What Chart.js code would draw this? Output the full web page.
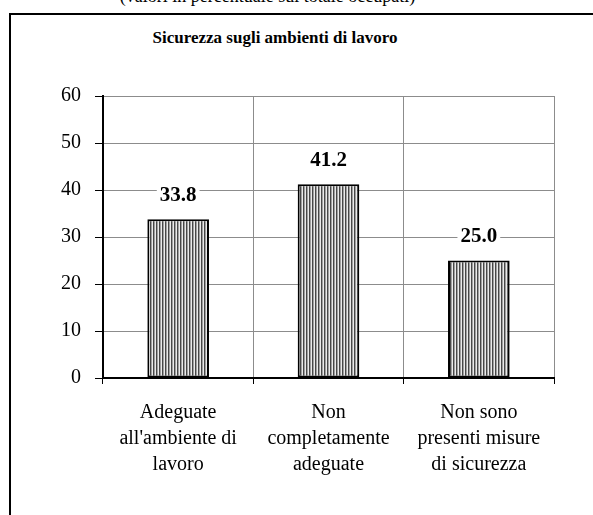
<!DOCTYPE html>
<html>
<head>
<meta charset="utf-8">
<script src="https://cdn.jsdelivr.net/npm/chart.js@4/dist/chart.umd.min.js"></script>
<style>
  html, body { margin: 0; padding: 0; background: #fff; overflow: hidden; }
  #wrap { position: relative; width: 593px; height: 515px; overflow: hidden; }
  #frame { position: absolute; left: 9px; top: 13px; width: 620px; height: 540px; border: 2px solid #000; box-sizing: border-box; }
  #subtitle { position: absolute; left: 0; width: 535px; top: -13px; text-align: center; font: 18px 'Liberation Serif', serif; line-height: 18px; color: #000; white-space: nowrap; }
  #title { position: absolute; left: 0; width: 550px; top: 28px; text-align: center; font: bold 17px 'Liberation Serif', serif; line-height: 20px; color: #000; white-space: nowrap; }
  canvas { position: absolute; left: 0; top: 0; }
</style>
</head>
<body>
<div id="wrap">
  <div id="frame"></div>
  <div id="subtitle">(valori in percentuale sul totale occupati)</div>
  <div id="title">Sicurezza sugli ambienti di lavoro</div>
  <canvas id="c" width="593" height="515"></canvas>
</div>
<script>
const categories = [
  ["Adeguate", "all'ambiente di", "lavoro"],
  ["Non", "completamente", "adeguate"],
  ["Non sono", "presenti misure", "di sicurezza"]
];
const values = [33.8, 41.2, 25.0];
const yTicks = [0, 10, 20, 30, 40, 50, 60];

function hatch() {
  const p = document.createElement('canvas');
  p.width = 3; p.height = 4;
  const g = p.getContext('2d');
  const cols = ['#474747', '#a0a0a0', '#eaeaea'];
  cols.forEach((c, i) => { g.fillStyle = c; g.fillRect(i, 0, 1, 4); });
  return g.createPattern(p, 'repeat');
}

const FONT = "'Liberation Serif', 'Times New Roman', serif";

const valueLabels = {
  id: 'valueLabels',
  afterDatasetsDraw(chart) {
    const ctx = chart.ctx;
    const meta = chart.getDatasetMeta(0);
    ctx.save();
    ctx.font = 'bold 21px ' + FONT;
    ctx.textAlign = 'center';
    ctx.textBaseline = 'middle';
    meta.data.forEach((bar, i) => {
      const txt = values[i].toFixed(1);
      const w = ctx.measureText(txt).width;
      const cy = bar.y - 25;
      ctx.fillStyle = '#fff';
      ctx.fillRect(bar.x - w / 2 - 3, cy - 10, w + 6, 20);
      ctx.fillStyle = '#000';
      ctx.fillText(txt, bar.x, cy + 1);
    });
    ctx.restore();
  }
};

new Chart(document.getElementById('c'), {
  type: 'bar',
  data: {
    labels: categories,
    datasets: [{
      data: values,
      backgroundColor: hatch(),
      borderColor: '#000',
      borderWidth: 2,
      borderSkipped: false,
      categoryPercentage: 1.0,
      barPercentage: 0.41
    }]
  },
  options: {
    responsive: false,
    animation: false,
    events: [],
    layout: { padding: { top: 96, left: 0, right: 39, bottom: 0 } },
    plugins: {
      legend: { display: false },
      title: { display: false },
      tooltip: { enabled: false }
    },
    scales: {
      x: {
        offset: true,
        grid: { offset: true, color: '#8c8c8c', lineWidth: 1, tickColor: '#000', tickLength: 6, drawTicks: true },
        border: { display: true, color: '#000', width: 2 },
        ticks: { color: '#000', font: { family: FONT, size: 20, lineHeight: '26px' }, padding: 16, maxRotation: 0, autoSkip: false },
        afterFit(scale) { scale.height = 137; }
      },
      y: {
        min: 0, max: 60,
        afterBuildTicks(scale) { scale.ticks = yTicks.map(v => ({ value: v })); },
        grid: { color: '#8c8c8c', lineWidth: 1, tickColor: '#000', tickLength: 8 },
        border: { display: true, color: '#000', width: 2 },
        ticks: { color: '#000', font: { family: FONT, size: 20 }, padding: 14 },
        afterFit(scale) { scale.width = 103; }
      }
    }
  },
  plugins: [valueLabels]
});
</script>
</body>
</html>
